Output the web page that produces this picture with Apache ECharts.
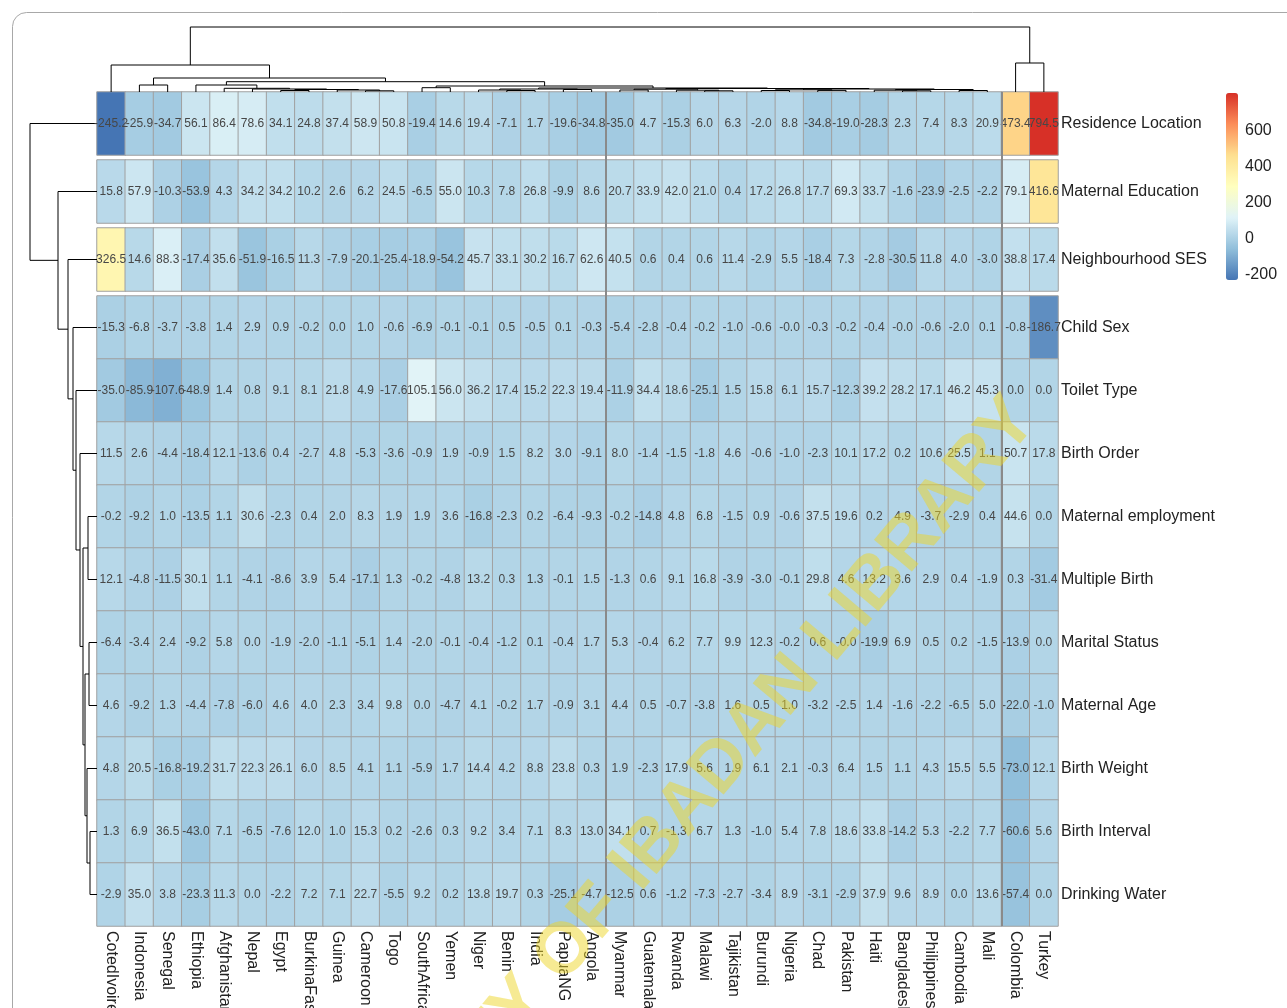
<!DOCTYPE html>
<html><head><meta charset="utf-8">
<script src="https://cdn.jsdelivr.net/npm/echarts@6/dist/echarts.min.js"></script>
<style>html,body{margin:0;padding:0;background:#fff}#c{width:1287px;height:1008px}</style>
</head><body><div id="c"></div>
<script>
// ---------------- DATA ----------------
const countries = ['CotedIvoire','Indonesia','Senegal','Ethiopia','Afghanistan','Nepal','Egypt','BurkinaFaso','Guinea','Cameroon','Togo','SouthAfrica','Yemen','Niger','Benin','India','PapuaNG','Angola','Myanmar','Guatemala','Rwanda','Malawi','Tajikistan','Burundi','Nigeria','Chad','Pakistan','Haiti','Bangladesh','Philippines','Cambodia','Mali','Colombia','Turkey'];
const rowNames = ['Residence Location','Maternal Education','Neighbourhood SES','Child Sex','Toilet Type','Birth Order','Maternal employment','Multiple Birth','Marital Status','Maternal Age','Birth Weight','Birth Interval','Drinking Water'];

const residence   = [-245.2,-25.9,-34.7,56.1,86.4,78.6,34.1,24.8,37.4,58.9,50.8,-19.4,14.6,19.4,-7.1,1.7,-19.6,-34.8,-35.0,4.7,-15.3,6.0,6.3,-2.0,8.8,-34.8,-19.0,-28.3,2.3,7.4,8.3,20.9,473.4,794.5];
const matEdu      = [15.8,57.9,-10.3,-53.9,4.3,34.2,34.2,10.2,2.6,6.2,24.5,-6.5,55.0,10.3,7.8,26.8,-9.9,8.6,20.7,33.9,42.0,21.0,0.4,17.2,26.8,17.7,69.3,33.7,-1.6,-23.9,-2.5,-2.2,79.1,416.6];
const neighSES    = [326.5,14.6,88.3,-17.4,35.6,-51.9,-16.5,11.3,-7.9,-20.1,-25.4,-18.9,-54.2,45.7,33.1,30.2,16.7,62.6,40.5,0.6,0.4,0.6,11.4,-2.9,5.5,-18.4,7.3,-2.8,-30.5,11.8,4.0,-3.0,38.8,17.4];
const childSex    = [-15.3,-6.8,-3.7,-3.8,1.4,2.9,0.9,-0.2,0.0,1.0,-0.6,-6.9,-0.1,-0.1,0.5,-0.5,0.1,-0.3,-5.4,-2.8,-0.4,-0.2,-1.0,-0.6,-0.04,-0.3,-0.2,-0.4,-0.04,-0.6,-2.0,0.1,-0.8,-186.7];
const toilet      = [-35.0,-85.9,-107.6,-48.9,1.4,0.8,9.1,8.1,21.8,4.9,-17.6,105.1,56.0,36.2,17.4,15.2,22.3,19.4,-11.9,34.4,18.6,-25.1,1.5,15.8,6.1,15.7,-12.3,39.2,28.2,17.1,46.2,45.3,0.0,0.0];
const birthOrder  = [11.5,2.6,-4.4,-18.4,12.1,-13.6,0.4,-2.7,4.8,-5.3,-3.6,-0.9,1.9,-0.9,1.5,8.2,3.0,-9.1,8.0,-1.4,-1.5,-1.8,4.6,-0.6,-1.0,-2.3,10.1,17.2,0.2,10.6,25.5,1.1,50.7,17.8];
const matEmp      = [-0.2,-9.2,1.0,-13.5,1.1,30.6,-2.3,0.4,2.0,8.3,1.9,1.9,3.6,-16.8,-2.3,0.2,-6.4,-9.3,-0.2,-14.8,4.8,6.8,-1.5,0.9,-0.6,37.5,19.6,0.2,4.9,-3.7,-2.9,0.4,44.6,0.0];
const multBirth   = [12.1,-4.8,-11.5,30.1,1.1,-4.1,-8.6,3.9,5.4,-17.1,1.3,-0.2,-4.8,13.2,0.3,1.3,-0.1,1.5,-1.3,0.6,9.1,16.8,-3.9,-3.0,-0.1,29.8,4.6,13.2,3.6,2.9,0.4,-1.9,0.3,-31.4];
const marital     = [-6.4,-3.4,2.4,-9.2,5.8,0.0,-1.9,-2.0,-1.1,-5.1,1.4,-2.0,-0.1,-0.4,-1.2,0.1,-0.4,1.7,5.3,-0.4,6.2,7.7,9.9,12.3,-0.2,0.6,-0.04,-19.9,6.9,0.5,0.2,-1.5,-13.9,0.0];
const matAge      = [4.6,-9.2,1.3,-4.4,-7.8,-6.0,4.6,4.0,2.3,3.4,9.8,0.0,-4.7,4.1,-0.2,1.7,-0.9,3.1,4.4,0.5,-0.7,-3.8,1.6,0.5,1.0,-3.2,-2.5,1.4,-1.6,-2.2,-6.5,5.0,-22.0,-1.0];
const birthWeight = [4.8,20.5,-16.8,-19.2,31.7,22.3,26.1,6.0,8.5,4.1,1.1,-5.9,1.7,14.4,4.2,8.8,23.8,0.3,1.9,-2.3,17.9,5.6,1.9,6.1,2.1,-0.3,6.4,1.5,1.1,4.3,15.5,5.5,-73.0,12.1];
const birthInterval=[1.3,6.9,36.5,-43.0,7.1,-6.5,-7.6,12.0,1.0,15.3,0.2,-2.6,0.3,9.2,3.4,7.1,8.3,13.0,34.1,0.7,-1.3,6.7,1.3,-1.0,5.4,7.8,18.6,33.8,-14.2,5.3,-2.2,7.7,-60.6,5.6];
const water       = [-2.9,35.0,3.8,-23.3,11.3,0.0,-2.2,7.2,7.1,22.7,-5.5,9.2,0.2,13.8,19.7,0.3,-25.1,-4.7,-12.5,0.6,-1.2,-7.3,-2.7,-3.4,8.9,-3.1,-2.9,37.9,9.6,8.9,0.0,13.6,-57.4,0.0];

const rowValues = [residence,matEdu,neighSES,childSex,toilet,birthOrder,matEmp,multBirth,marital,matAge,birthWeight,birthInterval,water];
const rowGroupSizes = [1,1,1,10];     // row clusters (cutree rows)
const colGroupSizes = [18,14,2];      // column clusters (cutree cols)
const legendTicks = [-200,0,200,400,600];

// Dendrograms: node = [height, left, right]; leaf = index
const colTree = [65,
  [27, 0, [14, [7, 1, 2],
    [10.3,
      [7, 3, [3.7, 4, [3, 5, [2.5, [1.5, 6, 7], [2, 8, [1.2, 9, 10]]]]]],
      [6, [4.3, 11, 12],
        [4, [3, [2, 13, [1.5, 14, 15]], [2.5, 16, 17]],
            [3.5, [2.8, [2, 18, 19], [1.8, 20, [1.2, 21, 22]]],
                  [3, [2.2, [1.5, 23, 24], [1.6, 25, 26]], [2.5, [1.8, 27, [1.2, 28, 29]], [1.5, 30, 31]]]]]]]]],
  [29, 32, 33]];
const rowTree = [67, 0, [39, 1, [29, 2, [24, 3, [21, 4, [17, 5, [14, [9, 6, 7], [12, [8, 8, 9], [10, 10, [7, 11, 12]]]]]]]]]];

// ---------------- LAYOUT ----------------
const L = 97, RGT = 1287 - 1058, T = 92, ROWH = 63, GAP = 5;
const FONT = "'Liberation Sans', Arial, sans-serif";
const palette = ['#4575B4','#91BFDB','#E0F3F8','#FFFFBF','#FEE090','#FC8D59','#D73027'];
const allVals = rowValues.flat();
const vMin = Math.min(...allVals), vMax = Math.max(...allVals);
const OB = {outerBoundsMode: 'none', containLabel: false};

const grids = [], xAxes = [], yAxes = [], series = [];
let start = 0;
rowGroupSizes.forEach((n, g) => {
  const rows = [];
  for (let i = 0; i < n; i++) rows.push(start + i);
  grids.push(Object.assign({left: L, right: RGT, top: T + start * ROWH + g * GAP, height: n * ROWH}, OB));
  const isLast = g === rowGroupSizes.length - 1;
  xAxes.push({type: 'category', gridIndex: g, data: countries,
    axisLine: {show: false}, axisTick: {show: false}, splitLine: {show: false},
    axisLabel: {show: isLast, rotate: -90, interval: 0, fontSize: 16, color: '#222', fontFamily: FONT, margin: 5}});
  yAxes.push({type: 'category', gridIndex: g, data: rows.map(r => rowNames[r]), inverse: true, position: 'right',
    axisLine: {show: false}, axisTick: {show: false}, splitLine: {show: false},
    axisLabel: {fontSize: 16, color: '#222', fontFamily: FONT, margin: 3, padding: [6, 0, 0, 0]}});
  const data = [];
  rows.forEach((r, yi) => rowValues[r].forEach((v, xi) => data.push([xi, yi, v])));
  series.push({type: 'heatmap', xAxisIndex: g, yAxisIndex: g, data,
    itemStyle: {borderColor: '#a0a0a0', borderWidth: 1},
    label: {show: true, fontSize: 12, color: '#474747', fontFamily: FONT, formatter: p => p.value[2].toFixed(1)},
    emphasis: {disabled: true}});
  start += n;
});
const nHeat = rowGroupSizes.length;
const heatH = rowValues.length * ROWH + (rowGroupSizes.length - 1) * GAP;

// dendrogram segments
function layoutTree(node, leafPos, segs) {
  if (typeof node === 'number') return {p: leafPos(node), h: 0};
  const a = layoutTree(node[1], leafPos, segs), b = layoutTree(node[2], leafPos, segs);
  segs.push([a.p, a.h, b.p, b.h, node[0]]);
  return {p: (a.p + b.p) / 2, h: node[0]};
}
const colSegs = []; layoutTree(colTree, i => i, colSegs);
const rowUnit = GAP / ROWH;
const rowPos = i => { let gi = 0, c = 0; for (let g = 0; g < rowGroupSizes.length; g++) { if (i < c + rowGroupSizes[g]) { gi = g; break; } c += rowGroupSizes[g]; } return i + 0.5 + gi * rowUnit; };
const totalUnits = rowValues.length + (rowGroupSizes.length - 1) * rowUnit;
const rowSegs = []; layoutTree(rowTree, rowPos, rowSegs);

function dendro(orient) {
  return function (params, api) {
    const a = api.value(0), ah = api.value(1), b = api.value(2), bh = api.value(3), h = api.value(4);
    const pts = orient === 'top'
      ? [[a, ah], [a, h], [b, h], [b, bh]]
      : [[ah, a], [h, a], [h, b], [bh, b]];
    return {type: 'polyline', shape: {points: pts.map(p => api.coord(p))}, style: {stroke: '#000', fill: null, lineWidth: 1}};
  };
}

// top dendrogram grid
const gTop = grids.length;
grids.push(Object.assign({left: L, right: RGT, top: 27, height: T - 27}, OB));
xAxes.push({type: 'value', gridIndex: gTop, min: -0.5, max: countries.length - 0.5, show: false});
yAxes.push({type: 'value', gridIndex: gTop, min: 0, max: colTree[0], show: false});
series.push({type: 'custom', xAxisIndex: gTop, yAxisIndex: gTop, data: colSegs, renderItem: dendro('top'), silent: true, clip: false});

// left dendrogram grid
const gLeft = grids.length;
grids.push(Object.assign({left: 30, width: L - 30, top: T, height: heatH}, OB));
xAxes.push({type: 'value', gridIndex: gLeft, min: 0, max: rowTree[0], inverse: true, show: false});
yAxes.push({type: 'value', gridIndex: gLeft, min: 0, max: totalUnits, inverse: true, show: false});
series.push({type: 'custom', xAxisIndex: gLeft, yAxisIndex: gLeft, data: rowSegs, renderItem: dendro('left'), silent: true, clip: false});

// column cluster separators
const gSep = grids.length;
grids.push(Object.assign({left: L, right: RGT, top: T, height: heatH}, OB));
xAxes.push({type: 'value', gridIndex: gSep, min: -0.5, max: countries.length - 0.5, show: false});
yAxes.push({type: 'value', gridIndex: gSep, min: 0, max: 1, show: false});
const sepLines = []; let cs = -0.5;
colGroupSizes.slice(0, -1).forEach(n => { cs += n; sepLines.push({xAxis: cs}); });
series.push({type: 'line', xAxisIndex: gSep, yAxisIndex: gSep, data: [], silent: true, z: 5,
  markLine: {silent: true, symbol: 'none', label: {show: false}, lineStyle: {color: '#8a8a8a', width: 2, type: 'solid'}, data: sepLines}});

// legend axis
const gLeg = grids.length;
grids.push(Object.assign({left: 1238, width: 1, top: 96, height: 187}, OB));
xAxes.push({type: 'value', gridIndex: gLeg, show: false});
yAxes.push({type: 'value', gridIndex: gLeg, min: vMin, max: vMax, position: 'right',
  axisLine: {show: false}, axisTick: {show: false}, splitLine: {show: false},
  axisLabel: {customValues: legendTicks, fontSize: 16, color: '#222', fontFamily: FONT, margin: 6}});

const chart = echarts.init(document.getElementById('c'));
chart.setOption({
  backgroundColor: '#fff',
  animation: false,
  grid: grids, xAxis: xAxes, yAxis: yAxes, series,
  visualMap: {type: 'continuous', min: vMin, max: vMax, seriesIndex: [...Array(nHeat).keys()],
    inRange: {color: palette}, left: 1226, top: 93, itemWidth: 12, itemHeight: 187, padding: 0,
    calculable: false, hoverLink: false, text: null, showLabel: false},
  graphic: [
    {type: 'rect', shape: {x: 12.5, y: 12.5, width: 1320, height: 1030, r: 14}, style: {fill: 'none', stroke: '#a8a8a8', lineWidth: 1}, silent: true},
    {type: 'text', x: 640, y: 863, rotation: 0.87, z: 100, silent: true,
      style: {text: 'UNIVERSITY OF IBADAN LIBRARY', font: 'bold 72px ' + FONT, fill: 'rgba(238,214,40,0.5)', align: 'center', verticalAlign: 'middle'}}
  ]
});
</script></body></html>
